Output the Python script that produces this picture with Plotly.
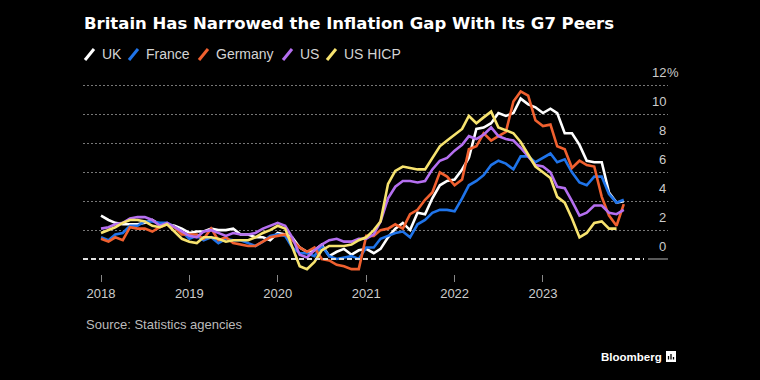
import pandas as pd
import plotly.graph_objects as go

# ---------------- data ----------------
months = pd.date_range("2018-01-01", periods=72, freq="MS")

uk = [3.0, 2.7, 2.5, 2.4, 2.4, 2.4, 2.5, 2.7, 2.4, 2.4, 2.3, 2.1,
      1.8, 1.9, 1.9, 2.1, 2.0, 2.0, 2.1, 1.7, 1.7, 1.5, 1.5, 1.3,
      1.8, 1.7, 1.5, 0.8, 0.5, 0.6, 1.0, 0.2, 0.5, 0.7, 0.3, 0.6,
      0.7, 0.4, 0.7, 1.5, 2.1, 2.5, 2.0, 3.2, 3.1, 4.2, 5.1, 5.4,
      5.5, 6.2, 7.0, 9.0, 9.1, 9.4, 10.1, 9.9, 10.1, 11.1, 10.7, 10.5,
      10.1, 10.4, 10.1, 8.7, 8.7, 7.9, 6.8, 6.7, 6.7, 4.6, 3.9, 4.0]

france = [1.5, 1.3, 1.7, 1.8, 2.3, 2.3, 2.6, 2.6, 2.5, 2.5, 2.2, 1.9,
          1.4, 1.6, 1.3, 1.5, 1.1, 1.4, 1.3, 1.3, 1.1, 0.9, 1.2, 1.6,
          1.7, 1.6, 0.8, 0.4, 0.4, 0.2, 0.9, 0.2, 0.0, 0.1, 0.2, 0.0,
          0.8, 0.8, 1.4, 1.6, 1.8, 1.9, 1.5, 2.4, 2.7, 3.2, 3.4, 3.4,
          3.3, 4.2, 5.1, 5.4, 5.8, 6.5, 6.8, 6.6, 6.2, 7.1, 7.1, 6.7,
          7.0, 7.3, 6.7, 6.9, 6.0, 5.3, 5.1, 5.7, 5.7, 4.5, 3.9, 4.1]

germany = [1.4, 1.2, 1.5, 1.3, 2.2, 2.1, 2.1, 1.9, 2.2, 2.4, 2.2, 1.7,
           1.7, 1.7, 1.4, 2.1, 1.3, 1.5, 1.1, 1.0, 0.9, 0.9, 1.2, 1.5,
           1.6, 1.7, 1.3, 0.8, 0.5, 0.8, 0.0, -0.1, -0.4, -0.5, -0.7, -0.7,
           1.6, 1.6, 2.0, 2.1, 2.4, 2.1, 3.1, 3.4, 4.1, 4.6, 6.0, 5.7,
           5.1, 5.5, 7.6, 7.8, 8.7, 8.2, 8.5, 8.8, 10.9, 11.6, 11.3, 9.6,
           9.2, 9.3, 7.8, 7.6, 6.3, 6.8, 6.5, 6.4, 4.3, 3.0, 2.3, 3.8]

us = [2.1, 2.2, 2.4, 2.5, 2.8, 2.9, 2.9, 2.7, 2.3, 2.5, 2.2, 1.9,
      1.6, 1.5, 1.9, 2.0, 1.8, 1.6, 1.8, 1.7, 1.7, 1.8, 2.1, 2.3,
      2.5, 2.3, 1.5, 0.3, 0.1, 0.6, 1.0, 1.3, 1.4, 1.2, 1.2, 1.4,
      1.4, 1.7, 2.6, 4.2, 5.0, 5.4, 5.4, 5.3, 5.4, 6.2, 6.8, 7.0,
      7.5, 7.9, 8.5, 8.3, 8.6, 9.1, 8.5, 8.3, 8.2, 7.7, 7.1, 6.5,
      6.4, 6.0, 5.0, 4.9, 4.0, 3.0, 3.2, 3.7, 3.7, 3.2, 3.1, 3.4]

us_hicp = [1.8, 2.0, 2.2, 2.5, 2.7, 2.7, 2.6, 2.3, 2.2, 2.4, 1.9, 1.4,
           1.2, 1.1, 1.5, 1.5, 1.4, 1.2, 1.3, 1.3, 1.3, 1.5, 1.8, 2.0,
           2.3, 2.1, 0.9, -0.5, -0.7, -0.2, 0.6, 0.9, 0.9, 0.9, 1.0, 1.3,
           1.5, 2.0, 2.6, 5.2, 6.1, 6.4, 6.3, 6.2, 6.2, 7.0, 7.8, 8.2,
           8.6, 9.0, 9.9, 9.4, 9.8, 10.2, 9.1, 8.9, 8.7, 8.1, 7.2, 6.4,
           6.0, 5.6, 4.3, 3.9, 2.8, 1.5, 1.8, 2.5, 2.6, 2.1, 2.1]

series_names = ["UK", "France", "Germany", "US", "US HICP"]
series_values = [uk, france, germany, us, us_hicp]
series_colors = ["#ffffff", "#1f74ea", "#f0602f", "#b56ff0", "#f7e36f"]

y_ticks = [0, 2, 4, 6, 8, 10, 12]
x_ticks = ["2018", "2019", "2020", "2021", "2022", "2023"]

title = "Britain Has Narrowed the Inflation Gap With Its G7 Peers"
source = "Source: Statistics agencies"

# ---------------- layout helpers ----------------
W, H = 760, 380
L, R, T, B = 83, 668, 78, 274


def px(x):
    return (x - L) / (R - L)


def py(y):
    return (B - y) / (B - T)


fig = go.Figure()
for name, vals, col in zip(series_names, series_values, series_colors):
    fig.add_trace(go.Scatter(
        x=months[:len(vals)], y=vals, mode="lines", name=name,
        line=dict(color=col, width=2.6), showlegend=False,
    ))

annotations = []
shapes = []

# title
annotations.append(dict(text="<b>" + title + "</b>", x=px(82), y=py(23),
                        xref="paper", yref="paper", xanchor="left", yanchor="middle",
                        showarrow=False, font=dict(size=16.5, color="#ffffff",
                                                   family="DejaVu Sans")))

# custom legend (slash icons)
legend_x = [85, 129, 199, 283, 327]
for name, col, lx in zip(series_names, series_colors, legend_x):
    shapes.append(dict(type="line", xref="paper", yref="paper",
                       x0=px(lx), y0=py(60), x1=px(lx + 9), y1=py(49),
                       line=dict(color=col, width=3)))
    annotations.append(dict(text=name, x=px(lx + 15), y=py(54.5), xref="paper", yref="paper",
                            xanchor="left", yanchor="middle", showarrow=False,
                            font=dict(size=14, color="#d4d4d4", family="Liberation Sans")))

# y tick labels above their gridlines, right aligned
for v in y_ticks:
    annotations.append(dict(text=str(v), x=px(668), y=v, xref="paper", yref="y",
                            xanchor="right", yanchor="middle", yshift=13, showarrow=False,
                            font=dict(size=13, color="#cccccc", family="Liberation Sans")))
annotations.append(dict(text="%", x=px(668), y=y_ticks[-1], xref="paper", yref="y",
                        xanchor="left", yanchor="middle", yshift=13, xshift=-3, showarrow=False,
                        font=dict(size=13, color="#cccccc", family="Liberation Sans")))

# zero line
shapes.append(dict(type="line", xref="paper", yref="y", x0=0, x1=px(644), y0=0, y1=0,
                   line=dict(color="#e0e0e0", width=2, dash="5px,3px")))
shapes.append(dict(type="line", xref="paper", yref="y", x0=px(648), x1=1, y0=0, y1=0,
                   line=dict(color="#777777", width=1.5)))

# source
annotations.append(dict(text=source, x=px(84), y=py(324), xref="paper", yref="paper",
                        xanchor="left", yanchor="middle", showarrow=False,
                        font=dict(size=13, color="#bbbbbb", family="Liberation Sans")))

# Bloomberg mark
annotations.append(dict(text="<b>Bloomberg</b>", x=px(599), y=py(357), xref="paper", yref="paper",
                        xanchor="left", yanchor="middle", showarrow=False,
                        font=dict(size=11.5, color="#ffffff", family="Liberation Sans")))
shapes.append(dict(type="rect", xref="paper", yref="paper", x0=px(666), x1=px(676),
                   y0=py(362), y1=py(351), fillcolor="#ffffff", line=dict(width=0)))
for bx, btop in [(668.5, 356), (671, 354), (673.5, 357)]:
    shapes.append(dict(type="line", xref="paper", yref="paper", x0=px(bx), x1=px(bx),
                       y0=py(359.5), y1=py(btop), line=dict(color="#000000", width=1.3)))

fig.update_layout(
    width=W, height=H,
    margin=dict(l=L, r=W - R, t=T, b=H - B),
    paper_bgcolor="#000000", plot_bgcolor="#000000",
    annotations=annotations, shapes=shapes,
    xaxis=dict(
        type="date",
        range=[pd.Timestamp("2018-01-01") - pd.Timedelta(days=18 / 88.4 * 365.25),
               pd.Timestamp("2018-01-01") + pd.Timedelta(days=(668 - 101) / 88.4 * 365.25)],
        tickvals=[pd.Timestamp(y + "-01-01") for y in x_ticks],
        ticktext=x_ticks,
        showgrid=False, zeroline=False, showline=False,
        ticks="outside", ticklen=7, tickcolor="#888888", tickwidth=1,
        tickfont=dict(size=13, color="#cccccc", family="Liberation Sans"),
    ),
    yaxis=dict(
        range=[-(B - 259) / 14.45, (259 - T) / 14.45],
        tickvals=y_ticks[1:], showticklabels=False,
        showgrid=True, gridcolor="#777777", gridwidth=1, griddash="2px,2px",
        zeroline=False, showline=False,
    ),
)

fig.write_html("out.html", config={"displayModeBar": False},
               post_script="document.body.style.margin='0';document.body.style.padding='0';"
                           "document.documentElement.style.background='#000';")
